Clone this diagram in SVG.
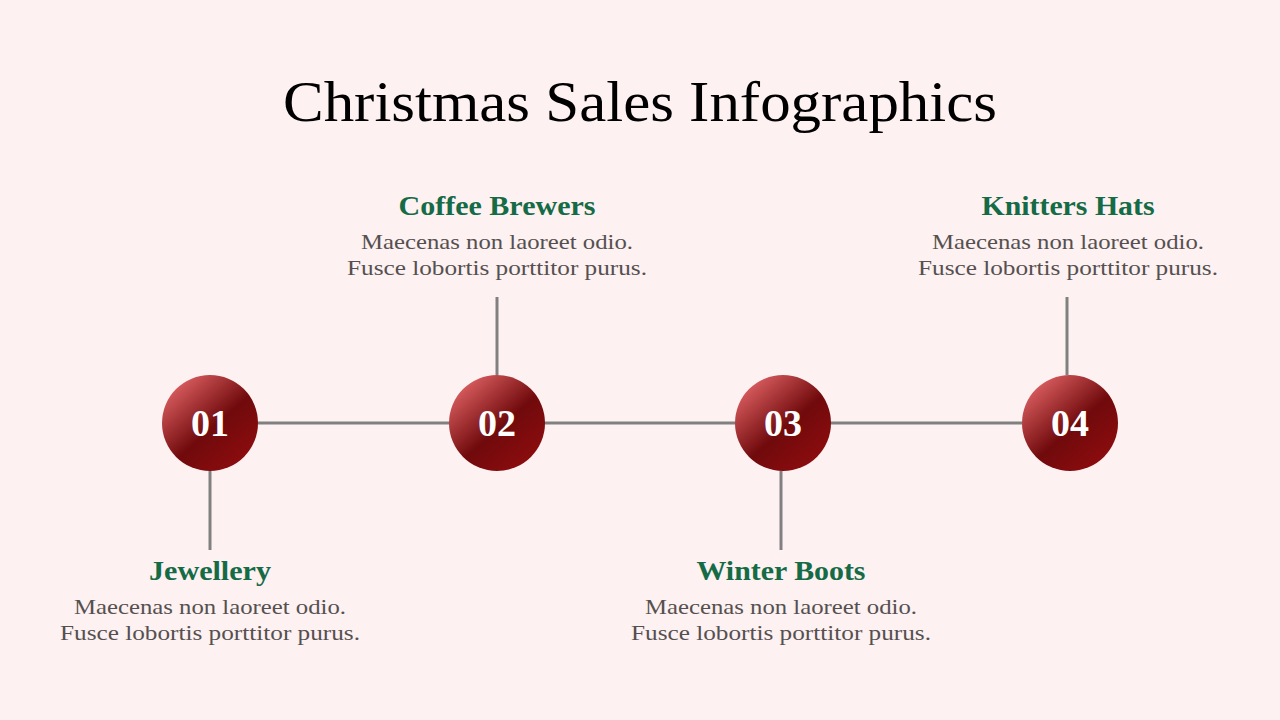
<svg xmlns="http://www.w3.org/2000/svg" width="1280" height="720" viewBox="0 0 1280 720">
<defs>
<linearGradient id="ball" x1="0.15" y1="0.1" x2="0.85" y2="0.9">
<stop offset="0" stop-color="#d85c5e"/>
<stop offset="0.55" stop-color="#700a0c"/>
<stop offset="1" stop-color="#8c0c0e"/>
</linearGradient>
<style>
.t{font-family:"Liberation Serif","DejaVu Serif",serif;font-weight:bold;font-size:28px;fill:#146b45;text-anchor:middle}
.b{font-family:"Liberation Serif","DejaVu Serif",serif;font-size:22px;fill:#555050;text-anchor:middle}
.n{font-family:"Liberation Serif","DejaVu Serif",serif;font-weight:bold;font-size:38px;fill:#ffffff;text-anchor:middle}
.c{fill:url(#ball)}
.l{stroke:#808080;stroke-width:3;fill:none}
</style>
</defs>
<rect width="1280" height="720" fill="#fdf1f1"/>
<text x="640" y="121" font-family="'Liberation Serif','DejaVu Serif',serif" font-size="56" fill="#000" text-anchor="middle" textLength="714" lengthAdjust="spacingAndGlyphs">Christmas Sales Infographics</text>
<g id="connectors">
<line class="l" x1="258" y1="423" x2="1022" y2="423"/>
<line class="l" x1="210" y1="471" x2="210" y2="550"/>
<line class="l" x1="497" y1="297" x2="497" y2="375"/>
<line class="l" x1="781" y1="471" x2="781" y2="550"/>
<line class="l" x1="1067" y1="297" x2="1067" y2="375"/>
</g>
<g id="node1">
<circle class="c" cx="210" cy="423" r="48"/>
<text class="n" x="210" y="436">01</text>
<text class="t" x="210" y="580" textLength="122" lengthAdjust="spacingAndGlyphs">Jewellery</text>
<text class="b" x="210" y="614" textLength="272" lengthAdjust="spacingAndGlyphs">Maecenas non laoreet odio.</text>
<text class="b" x="210" y="640" textLength="300" lengthAdjust="spacingAndGlyphs">Fusce lobortis porttitor purus.</text>
</g>
<g id="node2">
<circle class="c" cx="497" cy="423" r="48"/>
<text class="n" x="497" y="436">02</text>
<text class="t" x="497" y="215" textLength="197" lengthAdjust="spacingAndGlyphs">Coffee Brewers</text>
<text class="b" x="497" y="249" textLength="272" lengthAdjust="spacingAndGlyphs">Maecenas non laoreet odio.</text>
<text class="b" x="497" y="275" textLength="300" lengthAdjust="spacingAndGlyphs">Fusce lobortis porttitor purus.</text>
</g>
<g id="node3">
<circle class="c" cx="783" cy="423" r="48"/>
<text class="n" x="783" y="436">03</text>
<text class="t" x="781" y="580" textLength="169" lengthAdjust="spacingAndGlyphs">Winter Boots</text>
<text class="b" x="781" y="614" textLength="272" lengthAdjust="spacingAndGlyphs">Maecenas non laoreet odio.</text>
<text class="b" x="781" y="640" textLength="300" lengthAdjust="spacingAndGlyphs">Fusce lobortis porttitor purus.</text>
</g>
<g id="node4">
<circle class="c" cx="1070" cy="423" r="48"/>
<text class="n" x="1070" y="436">04</text>
<text class="t" x="1068" y="215" textLength="173" lengthAdjust="spacingAndGlyphs">Knitters Hats</text>
<text class="b" x="1068" y="249" textLength="272" lengthAdjust="spacingAndGlyphs">Maecenas non laoreet odio.</text>
<text class="b" x="1068" y="275" textLength="300" lengthAdjust="spacingAndGlyphs">Fusce lobortis porttitor purus.</text>
</g>
</svg>
